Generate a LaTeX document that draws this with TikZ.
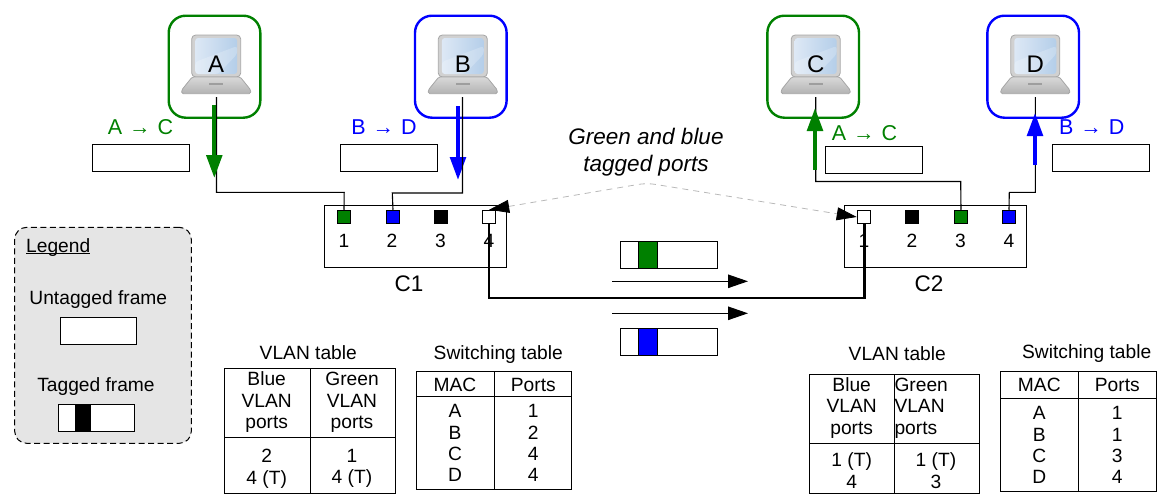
\documentclass[tikz,border=0pt]{standalone}
\usepackage{fontspec}
\setmainfont{Liberation Sans}
\usetikzlibrary{arrows.meta}
\definecolor{vgreen}{HTML}{008000}
\definecolor{vblue}{HTML}{0000FF}
\definecolor{screenlight}{HTML}{DDE8F5}
\definecolor{screendark}{HTML}{B4CEE9}
\newcommand{\flowlabel}[2]{#1\hspace{7pt}→\hspace{7pt}#2}
\tikzset{
	txt/.style={font=\fontsize{19.2}{21.6}\selectfont, inner sep=0, align=center},
	bigtxt/.style={font=\fontsize{21.5}{24}\selectfont, inner sep=0, align=center},
	hostname/.style={font=\fontsize{24}{24}\selectfont, inner sep=0},
	hostframe/.style={draw, line width=2.4pt, rounded corners=17pt, minimum width=91.6pt, minimum height=102pt, inner sep=0},
	framebox/.style={draw, line width=1.1pt, fill=white, minimum width=97pt, minimum height=27pt, inner sep=0},
	tagbox/.style={draw, line width=1.1pt, minimum height=27pt, inner sep=0},
	portbox/.style={draw, line width=1.1pt, minimum width=13.4pt, minimum height=13.4pt, inner sep=0},
	switchbox/.style={draw, line width=1.1pt, minimum width=182pt, minimum height=62pt, inner sep=0},
	tablebox/.style={draw, line width=1.1pt, inner sep=0},
	wire/.style={line width=1.1pt},
	flowgreen/.style={vgreen, line width=4pt, -{Triangle[length=23pt,width=15.5pt]}},
	flowblue/.style={vblue, line width=4pt, -{Triangle[length=23pt,width=15.5pt]}},
	trunkarrow/.style={line width=1.1pt, -{Triangle[length=20pt,width=13.5pt]}},
	laptop/.pic={
		\draw[fill=black!18, draw=black!35, line width=0.8pt, rounded corners=4pt] (-24.5,-29) rectangle (24.5,13);
		\shade[left color=screenlight, right color=screendark, rounded corners=3pt] (-21,-26) rectangle (21,10);
		\fill[white, opacity=0.22, rounded corners=3pt] (-21,-2) -- (21,-18) -- (21,-10) -- (2,10) -- (-21,10) -- cycle;
		\draw[top color=black!15, bottom color=black!30, draw=black!35, line width=0.8pt, rounded corners=1.5pt] (-24,13) -- (24,13) -- (34.5,26) -- (34.5,29.7) -- (-34.5,29.7) -- (-34.5,26) -- cycle;
		\fill[black!38] (-7,18.5) rectangle (7,21);
	}
}
\begin{document}
\begin{tikzpicture}[x=1pt,y=-1pt]
	\useasboundingbox (0,0) rectangle (1168,498);

	\node[hostframe, draw=vgreen] (frameA) at (214.5,66.7) {};
	\node[hostframe, draw=vblue] (frameB) at (460.8,66.7) {};
	\node[hostframe, draw=vgreen] (frameC) at (813.2,66.7) {};
	\node[hostframe, draw=vblue] (frameD) at (1033.2,66.7) {};
	\pic at (216.2,64) {laptop};
	\pic at (462.8,64) {laptop};
	\pic at (815.7,64) {laptop};
	\pic at (1035.3,64) {laptop};
	\node[hostname] (A) at (216.2,64.5) {A};
	\node[hostname] (B) at (462.8,64.5) {B};
	\node[hostname] (C) at (815.7,64.5) {C};
	\node[hostname] (D) at (1035.3,64.5) {D};

	\node[bigtxt, vgreen] (flowAC) at (140.5,126.7) {\flowlabel{A}{C}};
	\node[bigtxt, vblue] (flowBD) at (384,126.7) {\flowlabel{B}{D}};
	\node[bigtxt, vgreen] (flowCA) at (864.5,133.5) {\flowlabel{A}{C}};
	\node[bigtxt, vblue] (flowDB) at (1091.7,126.7) {\flowlabel{B}{D}};
	\node[framebox] (frameAC) at (141,157.8) {};
	\node[framebox] (frameBD) at (389,157.8) {};
	\node[framebox] (frameCA) at (874,160.3) {};
	\node[framebox] (frameDB) at (1101,157.8) {};

	\node[switchbox] (C1) at (415.3,236.3) {};
	\node[switchbox] (C2) at (935.7,236.3) {};
	\node[bigtxt, font=\fontsize{22.5}{24}\selectfont] (C1name) at (409,283.5) {C1};
	\node[bigtxt, font=\fontsize{22.5}{24}\selectfont] (C2name) at (929,283.5) {C2};

	\node[txt] (c1n1) at (344,240.7) {1};
	\node[txt] (c1n2) at (392,240.7) {2};
	\node[txt] (c1n3) at (440.5,240.7) {3};
	\node[txt] (c1n4) at (489,240.7) {4};
	\node[txt] (c2n1) at (864,240.7) {1};
	\node[txt] (c2n2) at (912,240.7) {2};
	\node[txt] (c2n3) at (960.5,240.7) {3};
	\node[txt] (c2n4) at (1009,240.7) {4};

	\coordinate (outA) at (216.5,97);
	\coordinate (outB) at (462.5,97);
	\coordinate (outC) at (815.7,97);
	\coordinate (outD) at (1035.3,97);
	\coordinate (turnA) at (344.2,192.3);
	\coordinate (turnB) at (392.3,193);
	\coordinate (turnC) at (960.7,181.5);
	\coordinate (turnD) at (1009.3,192.3);
	\coordinate (trunkL) at (489,297.8);
	\coordinate (trunkR) at (864.2,297.8);

	\draw[line width=2.6pt] (489,222) -- (trunkL) -- (trunkR) -- (864.2,222);

	\node[portbox, fill=vgreen] (c1p1) at (344,217) {};
	\node[portbox, fill=vblue] (c1p2) at (393,217) {};
	\node[portbox, fill=black] (c1p3) at (441,217) {};
	\node[portbox, fill=white] (c1p4) at (489.2,217) {};
	\node[portbox, fill=white] (c2p1) at (864,217) {};
	\node[portbox, fill=black] (c2p2) at (912,217) {};
	\node[portbox, fill=vgreen] (c2p3) at (961,217) {};
	\node[portbox, fill=vblue] (c2p4) at (1009,217) {};

	\coordinate (flowAtop) at (214.3,105);
	\coordinate (flowAend) at (214.3,178);
	\coordinate (flowBtop) at (458,106);
	\coordinate (flowBend) at (458,180);
	\coordinate (flowCtop) at (815,108);
	\coordinate (flowCend) at (815,170);
	\coordinate (flowDtop) at (1035,113);
	\coordinate (flowDend) at (1035,165);

	\draw[wire] (outA) |- (turnA) -- (c1p1.north);
	\path[flowgreen] (flowAtop) edge (flowAend);
	\path[flowblue] (flowBtop) edge (flowBend);
	\draw[wire] (outB) |- (turnB) -- (c1p2.north);
	\draw[wire] (outC) |- (turnC) -- (c2p3.north);
	\path[flowgreen] (flowCend) edge (flowCtop);
	\draw[wire] (outD) |- (turnD) -- (c2p4.north);
	\path[flowblue] (flowDend) edge (flowDtop);

	\node[txt, font=\fontsize{22.5}{27}\selectfont\itshape] (taglabel) at (646,152.5) {Green and blue\\tagged ports};
	\coordinate (tagapex) at (646.7,183);
	\draw[black!28, line width=0.8pt, dash pattern=on 6pt off 5pt, rounded corners=8pt, {Triangle[length=20pt,width=13pt,color=black]}-{Triangle[length=20pt,width=13pt,color=black]}] (c1p4.north) -- (tagapex) -- (c2p1.west);

	\node[tagbox, minimum width=96.6pt] (tagG) at (669,254.8) {};
	\node[tagbox, minimum width=18.6pt, fill=vgreen] (tagGmid) at (648,254.8) {};
	\node[tagbox, minimum width=96.6pt] (tagB) at (669,342) {};
	\node[tagbox, minimum width=18.6pt, fill=vblue] (tagBmid) at (648,342) {};
	\coordinate (dirGs) at (612.3,281.3);
	\coordinate (dirGe) at (748,281.3);
	\coordinate (dirBs) at (612.3,313.3);
	\coordinate (dirBe) at (748,313.3);
	\path[trunkarrow] (dirGs) edge (dirGe);
	\path[trunkarrow] (dirBs) edge (dirBe);

	\node[draw, line width=1pt, dash pattern=on 6pt off 3.5pt, fill=black!10, rounded corners=12pt, minimum width=176.6pt, minimum height=216pt, inner sep=0] (legend) at (103,335.3) {};
	\node[txt, anchor=base west] (legendname) at (26,252) {Legend\llap{\rule[-1.8pt]{64pt}{1pt}}};
	\node[txt] (untagname) at (98.3,299.5) {Untagged frame};
	\node[framebox, minimum width=76.4pt] (untag) at (98.5,330.8) {};
	\node[txt] (tagname) at (96,387) {Tagged frame};
	\node[framebox, minimum width=76.4pt] (tagged) at (96.5,417.8) {};
	\node[tagbox, minimum width=14pt, fill=black] (taggedmid) at (83,417.8) {};

	\node[txt] (vlanL) at (308.3,352.7) {VLAN table};
	\node[tablebox, minimum width=171.7pt, minimum height=124.6pt] (vlanLbox) at (309.9,431) {};
	\draw[wire] (310.3,368.7) -- (310.3,493.3);
	\draw[wire] (224,437.3) -- (395.7,437.3);
	\node[txt] (vlanLa) at (266.7,402.3) {Blue\\VLAN\\ports};
	\node[txt] (vlanLb) at (352,402.3) {Green\\VLAN\\ports};
	\node[txt] (vlanLc) at (266.7,468.5) {2\\4 (T)};
	\node[txt] (vlanLd) at (352,468.5) {1\\4 (T)};

	\node[txt] (swL) at (498.3,354.3) {Switching table};
	\node[tablebox, minimum width=155pt, minimum height=117.3pt] (swLbox) at (494.2,430.4) {};
	\draw[wire] (494.3,371.7) -- (494.3,489);
	\draw[wire] (416.7,396.3) -- (571.7,396.3);
	\node[txt] (swLa) at (455,384.5) {MAC};
	\node[txt] (swLb) at (533.3,384.5) {Ports};
	\node[txt, font=\fontsize{19.2}{21.2}\selectfont] (swLc) at (455,443) {A\\B\\C\\D};
	\node[txt, font=\fontsize{19.2}{21.2}\selectfont] (swLd) at (533.3,443) {1\\2\\4\\4};

	\node[txt] (vlanR) at (897.3,353.3) {VLAN table};
	\node[tablebox, minimum width=170pt, minimum height=118.7pt] (vlanRbox) at (894.3,433.7) {};
	\draw[wire] (894.7,374.3) -- (894.7,493);
	\draw[wire] (809.3,443.3) -- (979.3,443.3);
	\node[txt] (vlanRa) at (851.7,408) {Blue\\VLAN\\ports};
	\node[txt, anchor=west, align=left] (vlanRb) at (894.3,408) {Green\\VLAN\\ports};
	\node[txt] (vlanRc) at (851.7,470.5) {1 (T)\\4};
	\node[txt] (vlanRd) at (936,470.5) {1 (T)\\3};

	\node[txt] (swR) at (1086.7,354) {Switching table};
	\node[tablebox, minimum width=156pt, minimum height=120pt] (swRbox) at (1078.7,431.3) {};
	\draw[wire] (1078.7,371.3) -- (1078.7,491.3);
	\draw[wire] (1000.7,398.3) -- (1156.7,398.3);
	\node[txt] (swRa) at (1039.3,385) {MAC};
	\node[txt] (swRb) at (1117.3,385) {Ports};
	\node[txt, font=\fontsize{19.2}{21.2}\selectfont] (swRc) at (1039.3,445) {A\\B\\C\\D};
	\node[txt, font=\fontsize{19.2}{21.2}\selectfont] (swRd) at (1117.3,445) {1\\1\\3\\4};
\end{tikzpicture}
\end{document}
